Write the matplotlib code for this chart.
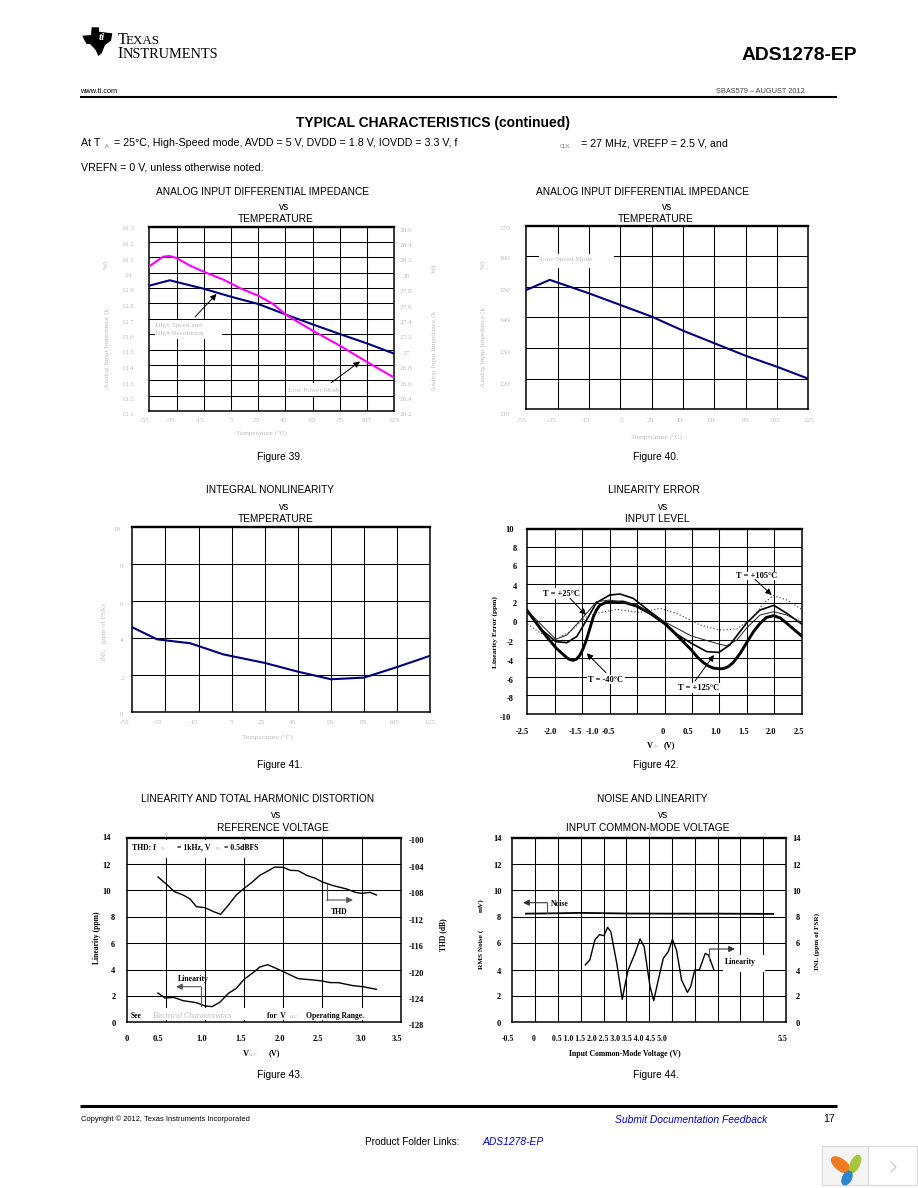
import numpy as np
import matplotlib
matplotlib.use('Agg')
import matplotlib.pyplot as plt
from matplotlib.patches import Rectangle, Polygon, Ellipse

# figure 39
temp_hs = [-55, -40, -15, 5, 25, 45, 65, 85, 105, 125]
imp_hs = [13.916, 13.951, 13.896, 13.844, 13.797, 13.729, 13.664, 13.601, 13.54, 13.473]
temp_lp = [-55, -45, -40, -35, -25, -15, 0, 12, 25, 36, 45, 53, 65, 85, 105, 125]
imp_lp = [28.084, 28.209, 28.218, 28.192, 28.092, 28.014, 27.906, 27.797, 27.702, 27.593, 27.459, 27.372, 27.246, 27.051, 26.838, 26.634]
# figure 40
temp_ls = [-55, -40, -15, 5, 25, 45, 65, 85, 105, 125]
imp_ls = [149.0, 152.3, 147.9, 144.1, 140.3, 135.7, 131.6, 127.5, 123.9, 120.0]
# figure 41
temp_inl = [-55, -40, -20, 0, 25, 45, 65, 85, 105, 125]
inl = [4.58, 3.93, 3.72, 3.12, 2.66, 2.19, 1.78, 1.87, 2.44, 3.05]
# figure 42
vin_m40 = [-2.5, -2.33, -2.15, -1.97, -1.78, -1.72, -1.66, -1.6, -1.54, -1.48, -1.42, -1.36, -1.3, -1.24, -1.18, -1.08, -1.0, -0.75, -0.51, -0.26, 0, 0.22, 0.49, 0.59, 0.71, 0.8, 0.89, 0.98, 1.07, 1.16, 1.25, 1.38, 1.49, 1.62, 1.74, 1.86, 1.99, 2.11, 2.23, 2.35, 2.5]
err_m40 = [1.15, -0.22, -1.65, -2.91, -3.92, -4.14, -4.21, -4.06, -3.63, -2.91, -1.94, -0.76, 0.43, 1.22, 1.73, 2.01, 2.09, 2.09, 1.65, 0.86, -0.22, -1.47, -3.09, -3.81, -4.46, -4.82, -5.04, -5.11, -5.11, -4.89, -4.46, -3.45, -2.37, -1.12, -0.22, 0.43, 0.61, 0.36, -0.22, -0.83, -1.58]
vin_p25 = [-2.5, -2.27, -1.98, -1.78, -1.6, -1.42, -1.24, -1.0, -0.81, -0.57, -0.26, 0, 0.22, 0.49, 0.77, 0.99, 1.19, 1.49, 1.74, 1.99, 2.23, 2.5]
err_p25 = [1.15, -0.76, -2.19, -2.30, -1.65, 0.14, 2.01, 2.84, 2.95, 2.48, 1.04, -0.11, -1.37, -2.37, -3.27, -3.35, -2.55, -0.22, 1.22, 1.73, 0.86, -0.29]
vin_p125 = [-2.5, -1.98, -1.78, -1.5, -1.24, -1.0, -0.51, 0, 0.49, 0.99, 1.13, 1.32, 1.49, 1.74, 1.99, 2.23, 2.5]
err_p125 = [1.15, -1.94, -1.47, 0.32, 2.12, 2.30, 1.76, -0.04, -1.58, -2.45, -2.63, -2.01, -0.76, 0.68, 1.04, 0.68, -0.14]
vin_p105 = [-2.5, -2.27, -1.98, -1.72, -1.42, -1.18, -0.87, -0.45, -0.08, 0.22, 0.65, 0.99, 1.32, 1.62, 1.8, 1.99, 2.23, 2.5]
err_p105 = [-0.29, -1.22, -1.94, -1.12, 0.50, 0.94, 1.29, 0.97, 1.40, 0.86, -0.40, -0.94, -0.83, 0.50, 1.94, 2.77, 2.30, 1.29]
# figure 43
vref_thd = [0.40, 0.51, 0.61, 0.72, 0.81, 0.89, 1.0, 1.11, 1.20, 1.30, 1.40, 1.50, 1.60, 1.70, 1.81, 1.89, 2.0, 2.09, 2.19, 2.30, 2.41, 2.50, 2.64, 2.81, 2.92, 3.0, 3.11, 3.19]
thd = [-105.96, -107.07, -108.19, -108.69, -109.30, -110.46, -110.61, -111.22, -111.62, -110.21, -108.69, -107.68, -106.77, -105.71, -105.0, -104.45, -104.5, -104.95, -105.0, -105.71, -106.16, -106.72, -107.28, -107.78, -108.29, -108.44, -108.29, -108.69]
vref_lin = [0.40, 0.49, 0.60, 0.72, 0.89, 1.0, 1.09, 1.19, 1.30, 1.40, 1.50, 1.62, 1.70, 1.80, 1.89, 2.0, 2.19, 2.38, 2.50, 2.60, 2.70, 2.89, 3.02, 3.19]
lin_vref = [2.22, 1.84, 1.89, 1.64, 1.49, 1.24, 1.19, 1.52, 2.2, 2.58, 3.26, 3.79, 4.19, 4.37, 4.14, 3.84, 3.31, 3.21, 3.13, 3.01, 3.01, 2.78, 2.70, 2.50]
# figure 44
vcm_noise = [-0.2, 0.5, 1.0, 2.0, 3.0, 4.0, 5.22]
noise = [8.24, 8.27, 8.3, 8.25, 8.24, 8.24, 8.22]
vcm_lin = [1.10, 1.20, 1.31, 1.41, 1.51, 1.59, 1.66, 1.79, 1.91, 1.97, 2.04, 2.19, 2.30, 2.39, 2.52, 2.60, 2.70, 2.81, 2.92, 3.01, 3.10, 3.21, 3.34, 3.41, 3.50, 3.60, 3.73, 3.80, 3.92]
lin_vcm = [4.35, 4.73, 6.24, 6.65, 6.57, 7.2, 6.87, 4.47, 1.74, 2.83, 3.97, 5.23, 6.32, 5.74, 2.70, 1.64, 3.21, 4.85, 5.36, 6.29, 5.48, 3.21, 2.27, 2.70, 3.97, 3.97, 5.23, 5.10, 3.97]

temp_ticks = ['-55', '-35', '-15', '5', '25', '45', '65', '85', '105', '125']
z39_left = ['14.3', '14.2', '14.1', '14', '13.9', '13.8', '13.7', '13.6', '13.5', '13.4', '13.3', '13.2', '13.1']
z39_right = ['28.6', '28.4', '28.2', '28', '27.8', '27.6', '27.4', '27.2', '27', '26.8', '26.6', '26.4', '26.2']
z40_left = ['170', '160', '150', '140', '130', '120', '110']
inl_left = ['10', '8', '6', '4', '2', '0']
err_left = ['10', '8', '6', '4', '2', '0', '-2', '-4', '-6', '-8', '-10']
vin_ticks = ['-2.5', '-2.0', '-1.5', '-1.0', '-0.5', '0', '0.5', '1.0', '1.5', '2.0', '2.5']
ppm_left = ['14', '12', '10', '8', '6', '4', '2', '0']
thd_right = ['-100', '-104', '-108', '-112', '-116', '-120', '-124', '-128']
vref_ticks = ['0', '0.5', '1.0', '1.5', '2.0', '2.5', '3.0', '3.5']
vcm_ticks = ['-0.5', '0', '0.5 1.0 1.5 2.0 2.5 3.0 3.5 4.0 4.5 5.0', '5.5']

NAVY = '#000080'
PINK = '#ff00ff'
GRAY = '#bdbdbd'
SANS = 'Liberation Sans'
SERIF = 'Liberation Serif'

fig = plt.figure(figsize=(9.18, 11.88), dpi=100, facecolor='white')
page = fig.add_axes([0, 0, 1, 1], zorder=10)
page.set_xlim(0, 918)
page.set_ylim(1188, 0)
page.axis('off')
page.patch.set_alpha(0)


def put(x, y, s, size=6.0, color='black', family=SERIF, ha='center', va='center', **kw):
    return page.text(x, y, s, fontsize=size, color=color, family=family, ha=ha, va=va, **kw)


def panel(box, xlim, ylim, xgrid, ygrid):
    x0, y0, x1, y1 = box
    ax = fig.add_axes([x0 / 918, 1 - y1 / 1188, (x1 - x0) / 918, (y1 - y0) / 1188])
    ax.set_xlim(xlim)
    ax.set_ylim(ylim)
    ax.set_xticks(xgrid)
    ax.set_yticks(ygrid)
    ax.tick_params(length=0, labelbottom=False, labelleft=False)
    ax.set_axisbelow(True)
    ax.grid(color='black', lw=0.75)
    for s in ax.spines.values():
        s.set_linewidth(1.1)
    ax.spines['top'].set_linewidth(1.7)
    return ax


def twin(ax, ylim):
    tw = ax.twinx()
    tw.set_ylim(ylim)
    tw.set_yticks([])
    tw.patch.set_alpha(0)
    for s in tw.spines.values():
        s.set_visible(False)
    return tw


def blank(ax, x0, y0, x1, y1):
    # white label box that hides the grid
    ax.add_patch(Rectangle((x0, y0), x1 - x0, y1 - y0, fc='white', ec='none', zorder=1,
                           transform=page.transData, clip_on=False))


def arrow(p0, p1, color='black', lw=0.7, scale=9):
    page.annotate('', xy=p1, xytext=p0, annotation_clip=False,
                  arrowprops=dict(arrowstyle='-|>', color=color, lw=lw, mutation_scale=scale, shrinkA=0, shrinkB=0))


def heading(lines, centers, ys):
    for s, x, y in zip(lines, centers, ys):
        put(x, y, s, size=7.3, family=SANS)


# page furniture
page.add_patch(Polygon([(82.3, 35.7), (91, 35), (91.7, 27.3), (99, 27.3), (99, 31.7), (112.3, 33.3), (111, 40.7),
                        (105, 45), (101.7, 53.3), (98.3, 56), (95.7, 50), (90, 44), (86.7, 44), (84.3, 40)], fc='black', ec='none'))
put(102, 38, 'ti', size=8, color='white', family=SERIF, style='italic', weight='bold')
put(117.5, 44, 'T', size=11.5, ha='left', va='baseline')
put(126, 44, 'EXAS', size=9.4, ha='left', va='baseline')
put(117.5, 58.3, 'I', size=11.5, ha='left', va='baseline')
put(123, 58.3, 'NSTRUMENTS', size=10.4, ha='left', va='baseline')
put(857, 55, 'ADS1278-EP', size=13.9, family=SANS, ha='right', weight='bold')
put(80, 91.5, 'www.ti.com', size=5.3, family=SANS, ha='left')
put(805, 91.5, 'SBAS579 – AUGUST 2012', size=5.3, family=SANS, ha='right', color='#444444')
page.plot([80, 837], [97, 97], color='black', lw=1.5, solid_capstyle='butt')
put(433, 123, 'TYPICAL CHARACTERISTICS (continued)', size=10, family=SANS, weight='bold')
put(81, 143.5, 'At T', size=7.7, family=SANS, ha='left')
put(105, 146, 'A', size=4, family=SANS, ha='left', color='#777777')
put(114, 143.5, '= 25°C, High-Speed mode, AVDD = 5 V, DVDD = 1.8 V, IOVDD = 3.3 V, f', size=7.7, family=SANS, ha='left')
put(560, 146, 'CLK', size=4, family=SANS, ha='left', color='#777777')
put(581, 143.5, '= 27 MHz, VREFP = 2.5 V, and', size=7.7, family=SANS, ha='left')
put(81, 167, 'VREFN = 0 V, unless otherwise noted.', size=7.7, family=SANS, ha='left')
page.plot([80, 837], [1105.5, 1105.5], color='black', lw=2.2, solid_capstyle='butt')
put(81, 1119, 'Copyright © 2012, Texas Instruments Incorporated', size=5.4, family=SANS, ha='left')
put(615, 1120, 'Submit Documentation Feedback', size=7.4, family=SANS, ha='left', color='#0000cc', style='italic')
put(835, 1119, '17', size=7.6, family=SANS, ha='right')
put(365, 1142, 'Product Folder Links:', size=7.2, family=SANS, ha='left')
put(482, 1142, 'ADS1278-EP', size=7.4, family=SANS, ha='left', color='#0000cc', style='italic')
page.add_patch(Rectangle((822, 1146), 95, 39, fc='white', ec='#d8d8d8', lw=0.8))
page.add_patch(Rectangle((822, 1146), 46, 39, fc='#f5f5f5', ec='#d8d8d8', lw=0.8))
page.add_patch(Ellipse((841, 1165), 24, 12, angle=38, fc='#ee7a22', ec='none'))
page.add_patch(Ellipse((855, 1164), 20, 10, angle=-65, fc='#a8c63c', ec='none'))
page.add_patch(Ellipse((847, 1178), 16, 10, angle=-62, fc='#2f86d0', ec='none'))
page.plot([891, 896, 891], [1162, 1167, 1172], color='#c4c4c4', lw=0.8)

# figure 39
ax = panel((149.3, 226.7, 394.3, 411), (-55, 125), (13.1, 14.3), np.arange(-35, 125, 20), np.arange(13.2, 14.3, 0.1))
ax.plot(temp_hs, imp_hs, color=NAVY, lw=1.5, zorder=3)
tw = twin(ax, (26.2, 28.6))
tw.plot(temp_lp, imp_lp, color=PINK, lw=1.5, zorder=3)
blank(ax, 155, 320, 221.7, 339.3)
blank(ax, 286.7, 383.3, 336.7, 395.7)
heading(['ANALOG INPUT DIFFERENTIAL IMPEDANCE', 'vs', 'TEMPERATURE'], [262, 284, 275.7], [191.7, 206.7, 219.3])
for s, y in zip(z39_left, np.linspace(229, 415, 13)):
    put(127.7, y, s, size=5.2, color=GRAY)
for s, y in zip(z39_right, np.linspace(230, 415, 13)):
    put(406.5, y, s, size=5.2, color=GRAY)
for s, x in zip(temp_ticks, [145, 171, 200, 231, 256, 283, 312, 340, 366, 394]):
    put(x, 421, s, size=5.2, color=GRAY)
put(262, 434, 'Temperature (°C)', size=5.2, color=GRAY)
put(107, 348, 'Analog Input Impedance (k', size=5.2, color=GRAY, rotation=90)
put(106, 264, 'W)', size=5.2, color=GRAY, rotation=90)
put(434, 351, 'Analog Input Impedance (k', size=5.2, color=GRAY, rotation=90)
put(434, 268, 'W)', size=5.2, color=GRAY, rotation=90)
put(155, 325, 'High Speed and', size=5.2, color=GRAY, ha='left')
put(155, 334, 'High Resolution', size=5.2, color=GRAY, ha='left')
put(287.7, 390, 'Low Power Mode', size=5.2, color=GRAY, ha='left')
arrow((195, 317), (216.5, 294))
arrow((331.5, 382.5), (360, 361.5))
put(279.5, 456.5, 'Figure 39.', size=7.3, family=SANS)

# figure 40
ax = panel((526.3, 225.7, 808.3, 409.3), (-55, 125), (110, 170), np.arange(-35, 125, 20), np.arange(120, 170, 10))
ax.plot(temp_ls, imp_ls, color=NAVY, lw=1.5, zorder=3)
blank(ax, 539, 254, 614, 267.5)
heading(['ANALOG INPUT DIFFERENTIAL IMPEDANCE', 'vs', 'TEMPERATURE'], [642, 667, 655.7], [191.7, 206.7, 219.3])
for s, y in zip(z40_left, [229, 259, 290, 321, 352.7, 385, 414.3]):
    put(504.3, y, s, size=5.2, color=GRAY)
for s, x in zip(temp_ticks, [521.5, 551.5, 586, 621, 650, 680, 711.5, 745.5, 775, 808.5]):
    put(x, 420.5, s, size=5.2, color=GRAY)
put(656.7, 438.3, 'Temperature (°C)', size=5.2, color=GRAY)
put(483, 346.7, 'Analog Input Impedance (k', size=5.2, color=GRAY, rotation=90)
put(483, 264, 'W)', size=5.2, color=GRAY, rotation=90)
put(539.5, 259, 'Low-Speed Mode', size=5.2, color=GRAY, ha='left')
put(656, 456.5, 'Figure 40.', size=7.3, family=SANS)

# figure 41
ax = panel((132.3, 526.7, 430.3, 712.3), (-55, 125), (0, 10), np.arange(-35, 125, 20), np.arange(2, 10, 2))
ax.plot(temp_inl, inl, color=NAVY, lw=1.5, zorder=3)
heading(['INTEGRAL NONLINEARITY', 'vs', 'TEMPERATURE'], [270.5, 284, 275.7], [490.3, 506.7, 519.3])
for s, x, y in zip(inl_left, [116.5, 122, 122, 122, 122, 122], [529.7, 566, 605, 640.7, 678.3, 714.3]):
    put(x, y, s, size=5.2, color=GRAY)
for s, x in zip(temp_ticks, [125, 157.3, 193.3, 231, 261, 292.7, 330, 363.3, 394, 429.3]):
    put(x, 722.5, s, size=5.2, color=GRAY)
put(267.7, 738.3, 'Temperature (°C)', size=5.2, color=GRAY)
put(104, 632, 'INL   (ppm of FSR)', size=5.2, color=GRAY, rotation=90)
put(279.5, 764.5, 'Figure 41.', size=7.3, family=SANS)

# figure 42
ax = panel((527.3, 528.7, 801.7, 714), (-2.5, 2.5), (-10, 10), np.arange(-2, 2.5, 0.5), np.arange(-8, 10, 2))
ax.plot(vin_m40, err_m40, color='black', lw=2.1, zorder=3)
ax.plot(vin_p25, err_p25, color='black', lw=1.2, zorder=3)
ax.plot(vin_p125, err_p125, color='#222222', lw=0.7, zorder=3)
ax.plot(vin_p105, err_p105, color='#333333', lw=0.8, ls=(0, (1, 2)), zorder=3)
blank(ax, 541.7, 588.3, 581.7, 599.3)
blank(ax, 586.7, 675, 625, 684)
blank(ax, 676.7, 683.3, 720, 693.3)
blank(ax, 735, 571.7, 778.3, 580)
heading(['LINEARITY ERROR', 'vs', 'INPUT LEVEL'], [654.3, 663, 657.3], [490.3, 506.7, 519.3])
for s, x, y in zip(err_left, [510, 515, 515, 515, 515, 515, 510, 510, 510, 510, 505.7],
                   [530, 549, 567.3, 586.7, 604, 623.3, 643.3, 662.3, 680.7, 699, 718]):
    put(x, y, s, weight='bold')
for s, x in zip(vin_ticks, [522.7, 550, 575.7, 592.3, 608.3, 662.3, 688.3, 715.3, 743.3, 770.7, 799]):
    put(x, 731.5, s, weight='bold')
put(650, 745.5, 'V', weight='bold')
put(656, 747, 'IN', size=3.5, color=GRAY)
put(669, 745.5, '(V)', weight='bold')
put(561.7, 594, 'T = +25°C', weight='bold')
put(606, 680, 'T = -40°C', weight='bold')
put(699, 688, 'T = +125°C', weight='bold')
put(757, 576, 'T = +105°C', weight='bold')
arrow((570, 598.3), (586, 615))
arrow((606, 672.7), (586.7, 653.3))
arrow((695, 681), (714, 655))
arrow((755, 579.3), (771.7, 595))
put(495, 632, 'Linearity Error (ppm)', size=5.4, weight='bold', rotation=90)
put(656, 764.5, 'Figure 42.', size=7.3, family=SANS)

# figure 43
ax = panel((126.7, 837.7, 400.7, 1022.3), (0, 3.5), (0, 14), np.arange(0.5, 3.5, 0.5), np.arange(2, 14, 2))
ax.plot(vref_lin, lin_vref, color='black', lw=1.0, zorder=3)
tw = twin(ax, (-128, -100))
tw.plot(vref_thd, thd, color='black', lw=1.0, zorder=3)
blank(ax, 129.3, 840, 261.7, 857.7)
blank(ax, 129.3, 1008.3, 365, 1020)
blank(ax, 327, 908, 352, 916)
heading(['LINEARITY AND TOTAL HARMONIC DISTORTION', 'vs', 'REFERENCE VOLTAGE'], [258, 276, 272.7], [799.3, 815, 828.3])
for s, x, y in zip(ppm_left, [106.7, 106.7, 106.7, 113.3, 113.3, 113.3, 113.3, 113.3],
                   [838.3, 866, 891.7, 918.3, 945, 971, 997.3, 1024]):
    put(x, y, s, weight='bold')
for s, y in zip(thd_right, [840.7, 867.7, 894, 920.7, 947.3, 974, 1000, 1026]):
    put(408.5, y, s, weight='bold', ha='left')
for s, x in zip(vref_ticks, [126.7, 158.3, 201.7, 241, 280, 318.3, 361, 396.7]):
    put(x, 1038.7, s, weight='bold')
put(246, 1053.5, 'V', weight='bold')
put(253, 1055, 'REF', size=3.5, color=GRAY)
put(274, 1053.5, '(V)', weight='bold')
put(96.7, 937.3, 'Linearity (ppm)', size=5.5, weight='bold', rotation=90)
put(443.5, 934.3, 'THD (dB)', size=5.5, weight='bold', rotation=90)
put(132, 847.7, 'THD: f', size=5.6, weight='bold', ha='left')
put(163, 849, 'IN', size=3.5, color=GRAY)
put(177, 847.7, '= 1kHz, V', size=5.6, weight='bold', ha='left')
put(218, 849, 'IN', size=3.5, color=GRAY)
put(224, 847.7, '= 0.5dBFS', size=5.6, weight='bold', ha='left')
put(130.7, 1015.5, 'See', size=5.5, weight='bold', ha='left')
put(152, 1015.5, 'Electrical Characteristics', size=5.5, color=GRAY, ha='left', style='italic')
put(267, 1015.5, 'for  V', size=5.5, weight='bold', ha='left')
put(290, 1017, 'REF', size=3.5, color=GRAY, ha='left')
put(306, 1015.5, 'Operating Range.', size=5.5, weight='bold', ha='left')
put(339, 912, 'THD', size=5.6, weight='bold')
put(193.5, 979, 'Linearity', size=5.6, weight='bold')
page.plot([327, 327], [884, 900], color='#555555', lw=0.8)
arrow((327, 900), (353, 900), color='#555555', lw=0.8)
page.plot([200.7, 200.7], [986.5, 1006], color='#555555', lw=0.8)
arrow((200.7, 986.7), (176, 986.7), color='#555555', lw=0.8)
put(279.5, 1074.5, 'Figure 43.', size=7.3, family=SANS)

# figure 44
ax = panel((512.3, 837.7, 786, 1022.3), (-0.5, 5.5), (0, 14), np.arange(0, 5.5, 0.5), np.arange(2, 14, 2))
ax.plot(vcm_noise, noise, color='black', lw=1.3, zorder=3)
tw = twin(ax, (0, 14))
tw.plot(vcm_lin, lin_vcm, color='black', lw=1.0, zorder=3)
blank(ax, 723.3, 955, 765, 971.7)
heading(['NOISE AND LINEARITY', 'vs', 'INPUT COMMON-MODE VOLTAGE'], [652.5, 663, 647.3], [799.3, 815, 828.3])
for s, x, y in zip(ppm_left, [497.7, 497.7, 497.7, 499, 499, 499, 499, 499],
                   [839, 866, 892.3, 918.3, 944.3, 971.7, 997, 1024]):
    put(x, y, s, weight='bold')
for s, x, y in zip(ppm_left, [796.7, 796.7, 796.7, 798, 798, 798, 798, 798],
                   [839, 866, 892.3, 918.3, 944.3, 971.7, 997, 1024]):
    put(x, y, s, weight='bold')
for s, x in zip(vcm_ticks, [508, 534, 609.5, 783]):
    put(x, 1039, s, size=5.6, weight='bold')
put(625, 1054.5, 'Input Common-Mode Voltage (V)', size=5.6, weight='bold')
put(481, 949, 'RMS Noise (', size=5.2, weight='bold', rotation=90)
put(481, 905, 'mV)', size=5.2, weight='bold', rotation=90)
put(817, 941, 'INL (ppm of FSR)', size=5.2, weight='bold', rotation=90)
put(560, 903.5, 'Noise', size=5.6, weight='bold')
put(740, 962.5, 'Linearity', size=5.6, weight='bold')
page.plot([547.3, 547.3], [913, 902.7], color='#555555', lw=0.8)
arrow((547.3, 902.7), (523, 902.7), color='#333333', lw=0.8)
page.plot([709.3, 709.3], [960, 949], color='#555555', lw=0.8)
arrow((709.3, 949), (735, 949), color='#333333', lw=0.8)
put(656, 1074.5, 'Figure 44.', size=7.3, family=SANS)

fig.savefig('out.png', dpi=100)
